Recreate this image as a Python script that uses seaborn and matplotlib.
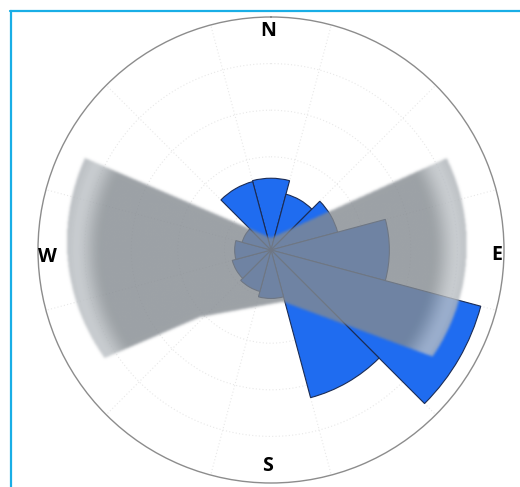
import numpy as np
import matplotlib
matplotlib.use("Agg")
import matplotlib.pyplot as plt
import seaborn as sns
from matplotlib.path import Path
from matplotlib.lines import Line2D

# ---------------- data ----------------
directions_deg = [0, 30, 60, 90, 120, 150, 180, 210, 240, 270, 300, 330]
frequency = [7.7, 6.2, 7.4, 12.7, 23.3, 16.4, 5.2, 4.6, 4.3, 3.9, 3.2, 7.6]
compass_labels = ["N", "E", "S", "W"]
compass_deg = [359.2, 91.3, 181.0, 268.2]
compass_r = [23.5, 24.25, 23.2, 24.05]
ring_values = [5, 10, 15, 20]
r_max = 25
sector_width_deg = 30

# overlay (gray band) outline, polar vertices (deg, r)
overlay_top_theta = [296.3, 0.0, 62.4]
overlay_top_r = [22.3, 1.3, 21.3]
overlay_right_end_theta = [62.4, 91.0, 123.4]
overlay_right_end_r = [21.3, 21.0, 20.8]
overlay_bottom_theta = [123.4, 167.0, 226.7, 237.0]
overlay_bottom_r = [20.8, 5.7, 10.5, 21.3]
overlay_left_end_theta = [237.0, 270.0, 296.3]
overlay_left_end_r = [21.3, 21.9, 22.3]

# ---------------- style ----------------
sns.set_theme(style="white")
plt.rcParams["font.family"] = ["Open Sans", "DejaVu Sans"]

W, H = 520, 487
fig = plt.figure(figsize=(W / 100, H / 100), dpi=100)
fig.patch.set_facecolor("white")

cx, cy, R = 271, 250, 233
rect = [(cx - R) / W, (H - cy - R) / H, 2 * R / W, 2 * R / H]
ax = fig.add_axes(rect, projection="polar")
ax.set_theta_zero_location("N")
ax.set_theta_direction(-1)
ax.set_ylim(0, r_max)
ax.set_facecolor("white")

# grid
ax.set_xticks(np.deg2rad(np.arange(15, 360, 30)))
ax.set_xticklabels([])
ax.set_yticks(ring_values)
ax.set_yticklabels([])
ax.grid(True, color="#e8e8e8", linestyle=(0, (1, 2)), linewidth=0.8)
ax.spines["polar"].set_color("#8c8c8c")
ax.spines["polar"].set_linewidth(1.0)
ax.tick_params(length=0)

# bars
blue = "#1f6cf0"
ax.bar(np.deg2rad(directions_deg), frequency, width=np.deg2rad(sector_width_deg),
       color=blue, edgecolor="#1b2c55", linewidth=0.8, zorder=3)


# ---------------- overlay ----------------
def to_xy(th_deg, r):
    t = np.deg2rad(np.asarray(th_deg, dtype=float))
    r = np.asarray(r, dtype=float)
    return r * np.sin(t), r * np.cos(t)


def straight(thetas, rs):
    xs, ys = to_xy(thetas, rs)
    return list(zip(xs, ys))


def arc(thetas, rs, n=80):
    tt = np.linspace(thetas[0], thetas[-1], n)
    rr = np.interp(tt, thetas, rs)
    xs, ys = to_xy(tt, rr)
    return list(zip(xs, ys))


verts = (straight(overlay_top_theta, overlay_top_r)
         + arc(overlay_right_end_theta, overlay_right_end_r)
         + straight(overlay_bottom_theta, overlay_bottom_r)
         + arc(overlay_left_end_theta, overlay_left_end_r))
path = Path(verts + [verts[0]], closed=True)

N = 720
g = np.linspace(-r_max, r_max, N)
GX, GY = np.meshgrid(g, g[::-1])
inside = path.contains_points(np.column_stack([GX.ravel(), GY.ravel()]))
mask = inside.reshape(N, N).astype(float)


def blur(a, sigma):
    k = np.arange(-int(3 * sigma), int(3 * sigma) + 1)
    w = np.exp(-0.5 * (k / sigma) ** 2)
    w /= w.sum()
    a = np.apply_along_axis(lambda m: np.convolve(m, w, mode="same"), 0, a)
    a = np.apply_along_axis(lambda m: np.convolve(m, w, mode="same"), 1, a)
    return a


mask = blur(mask, 2.0)
RRg = np.hypot(GX, GY)
end_r = np.where(GX > 0, 21.0, 21.9)
s = np.clip((RRg - (end_r - 3.8)) / 2.8, 0, 1)
s = s * s * (3 - 2 * s)
F = 0.55 * s - 0.12 * np.clip((RRg - (end_r - 0.8)) / 0.8, 0, 1)
F = np.clip(F, 0, 1)
base = np.array([0.52, 0.545, 0.565])
light = np.array([0.90, 0.915, 0.93])
rgb = base[None, None, :] * (1 - F[..., None]) + light[None, None, :] * F[..., None]
alpha = 0.80 * mask
img = np.dstack([rgb, alpha])

ax2 = fig.add_axes(rect, facecolor="none")
ax2.set_xlim(-r_max, r_max)
ax2.set_ylim(-r_max, r_max)
ax2.axis("off")
ax2.imshow(img, extent=[-r_max, r_max, -r_max, r_max], interpolation="bilinear",
           zorder=1)

# compass labels
for lab, th, rr in zip(compass_labels, compass_deg, compass_r):
    ax2.text(rr * np.sin(np.deg2rad(th)), rr * np.cos(np.deg2rad(th)), lab,
             ha="center", va="center", fontsize=14, fontweight="bold",
             color="black", zorder=7)

# frame lines
fig.add_artist(Line2D([10 / W, 1], [1 - 10.5 / H, 1 - 10.5 / H],
                      color="#19aee6", linewidth=1.6, transform=fig.transFigure))
fig.add_artist(Line2D([10.5 / W, 10.5 / W], [0, 1 - 10.5 / H],
                      color="#19aee6", linewidth=1.6, transform=fig.transFigure))

fig.savefig("out.png", dpi=100, facecolor="white")
